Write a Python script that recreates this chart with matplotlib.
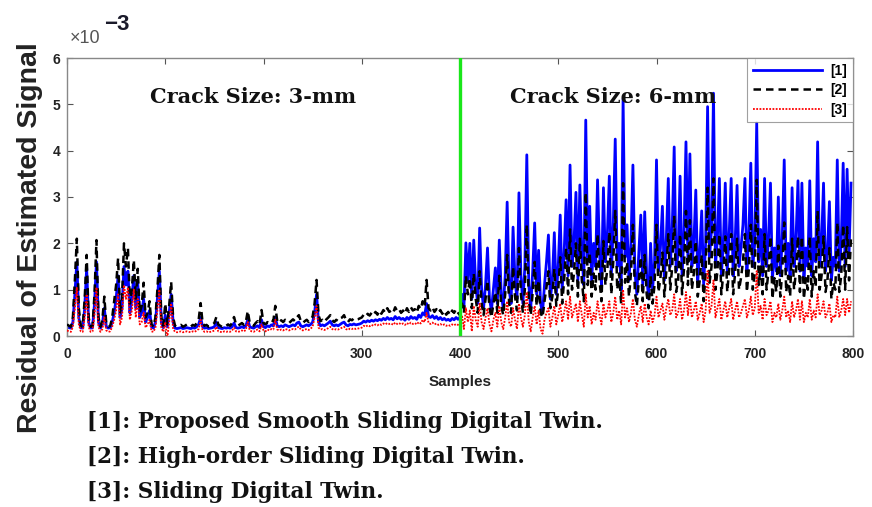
import numpy as np
import matplotlib
matplotlib.use("Agg")
import matplotlib.pyplot as plt

# ---------------- data (units of 1e-5, one value every 2 samples) ----------------
step = 2
blue_a = [
    20,18,17,30,90,160,40,18,17,60,      # 0
    147,30,17,18,70,160,30,17,25,60,     # 20
    20,17,18,30,50,80,130,40,60,150,     # 40
    110,140,50,80,130,60,115,40,50,80,   # 60
    30,40,55,20,17,30,80,140,30,18,      # 80
    45,20,50,90,30,17,16,17,18,16,       # 100
    17,18,17,16,18,17,20,25,40,20,       # 120
    17,18,16,17,18,20,30,18,17,16,       # 140
    18,17,18,17,20,28,18,17,18,20,       # 160
    18,22,35,20,18,17,20,22,18,35,       # 180
    20,18,22,20,24,22,40,22,20,22,       # 200
    20,24,22,20,22,24,22,28,30,22,       # 220
    20,22,24,22,25,30,50,90,30,22,       # 240
    24,22,25,28,32,24,22,24,22,25,       # 260
    28,30,24,22,25,24,26,24,25,26,       # 280
    28,32,30,33,31,34,32,35,33,36,       # 300
    34,38,35,40,36,38,35,42,37,40,       # 320
    36,38,34,40,36,42,38,40,36,45,       # 340
    40,50,45,70,42,40,44,38,42,36,       # 360
    40,35,38,34,36,33,38,35,40,36,       # 380
]
blue_b = [
    40,90,60,201,120,200,80,207,110,70,      # 400
    233,100,60,110,190,80,55,100,147,70,     # 420
    207,90,60,130,289,100,70,235,120,80,     # 440
    309,130,70,150,391,110,60,140,244,90,    # 460
    185,70,50,110,160,218,80,120,223,90,     # 480
    150,261,100,180,294,130,369,150,200,310, # 500
    120,326,180,110,466,160,280,120,200,150, # 520
    337,180,110,320,160,220,345,130,240,425, # 540
    150,200,100,512,170,240,120,200,369,140, # 560
    90,180,261,110,268,130,80,200,100,160,   # 580
    380,140,190,280,120,210,340,150,230,408, # 600
    140,180,345,130,220,419,160,393,150,200, # 620
    315,120,180,270,110,200,495,170,230,524, # 640
    150,210,340,130,200,330,140,220,340,130, # 660
    200,325,150,190,240,340,140,220,373,150, # 680
    200,460,160,230,130,340,150,210,330,120, # 700
    190,140,300,130,210,380,140,200,130,320, # 720
    150,210,335,140,330,120,190,150,335,130, # 740
    210,160,419,150,200,330,140,180,290,120, # 760
    170,150,380,140,200,373,150,360,180,330, # 780
]
black_a = [
    25,22,20,40,120,210,60,22,20,80,
    175,40,20,22,90,207,40,20,35,85,
    25,20,22,40,75,110,168,50,80,200,
    150,190,70,100,164,80,145,50,65,115,
    40,50,75,25,20,40,100,175,40,22,
    70,25,65,117,40,22,20,22,24,20,
    22,25,22,20,24,22,28,35,71,28,
    22,24,20,22,25,28,41,25,22,20,
    24,22,25,22,28,41,25,22,25,28,
    24,30,54,28,25,22,28,32,25,56,
    28,25,30,28,34,32,65,32,28,34,
    30,35,32,28,32,36,32,40,45,32,
    28,32,35,30,36,42,70,121,45,32,
    35,30,36,40,45,34,30,35,32,38,
    40,45,34,30,36,34,38,35,36,38,
    40,46,42,48,44,50,45,52,46,55,
    48,56,50,60,52,55,50,62,54,58,
    50,55,48,60,52,62,55,58,50,65,
    58,75,62,121,60,55,62,52,58,50,
    56,48,55,46,52,45,55,50,58,50,
]
black_b = [
    45,70,50,130,90,125,60,135,80,50,
    140,70,45,80,120,60,40,70,95,50,
    130,65,45,90,175,70,50,150,85,55,
    190,90,50,100,240,75,45,95,160,65,
    120,50,40,75,105,140,60,85,145,65,
    100,170,70,120,190,90,230,100,135,200,
    85,210,120,75,310,110,180,85,135,100,
    220,120,75,205,110,145,225,90,160,270,
    100,135,70,330,115,160,85,135,240,95,
    65,120,170,75,175,90,60,130,70,110,
    240,95,125,180,85,140,220,100,150,260,
    95,120,220,90,145,270,110,250,100,135,
    205,85,120,175,75,135,320,115,150,340,
    100,140,220,90,135,215,95,145,220,90,
    135,210,100,125,160,220,95,145,240,100,
    135,337,110,150,90,220,100,140,215,80,
    125,95,195,85,140,245,95,130,85,210,
    100,140,215,95,215,80,125,100,215,85,
    140,105,270,100,130,215,95,120,190,80,
    115,100,245,95,130,240,100,235,120,215,
]
red_a = [
    12,10,9,20,60,104,25,10,9,40,
    90,20,9,10,45,105,20,9,15,40,
    12,9,10,20,35,55,90,25,40,110,
    80,105,35,55,100,40,80,25,30,50,
    18,25,35,10,9,18,55,100,18,9,
    30,-5,30,70,15,9,8,9,10,8,
    9,10,9,8,10,9,12,15,35,12,
    9,10,8,9,10,12,20,10,9,8,
    10,9,10,9,12,18,10,9,10,12,
    10,13,30,12,10,9,12,14,10,25,
    12,10,14,12,15,14,35,14,12,14,
    12,15,14,12,14,15,14,18,20,14,
    12,14,15,13,16,20,40,65,18,14,
    15,13,15,17,20,15,13,15,14,16,
    18,20,15,13,16,15,17,15,16,17,
    18,22,20,23,21,24,22,25,23,26,
    24,27,25,28,26,27,24,29,26,28,
    25,27,24,28,25,29,26,28,25,30,
    27,35,30,50,28,26,29,25,27,24,
    26,23,25,22,24,22,25,23,26,24,
]
red_b = [
    20,45,15,60,30,55,10,65,35,20,
    70,30,15,40,60,25,10,35,50,20,
    65,30,15,40,75,30,20,60,35,15,
    70,40,20,45,95,30,10,40,65,25,
    55,15,5,35,50,60,20,40,65,25,
    45,70,30,50,75,35,85,40,55,70,
    30,75,45,20,90,40,65,25,50,35,
    75,45,25,70,40,55,75,30,50,85,
    35,55,25,100,40,60,30,50,80,35,
    20,45,65,30,70,40,25,55,30,45,
    85,40,55,70,35,60,80,45,55,90,
    40,50,80,35,55,95,45,85,40,55,
    75,35,50,70,30,55,140,50,65,120,
    40,60,80,35,55,75,40,60,80,35,
    55,75,40,50,65,80,40,55,85,45,
    60,140,50,65,35,80,45,55,75,30,
    50,40,70,35,55,85,40,55,30,75,
    40,55,80,35,75,30,50,40,80,35,
    55,40,90,45,55,75,40,50,70,30,
    45,40,85,40,55,80,45,80,50,75,
]
legend_labels = ["[1]", "[2]", "[3]"]
x_ticks = [0, 100, 200, 300, 400, 500, 600, 700, 800]
y_ticks = [0, 1, 2, 3, 4, 5, 6]
crack_change = 400
captions = ["[1]: Proposed Smooth Sliding Digital Twin.",
            "[2]: High-order Sliding Digital Twin.",
            "[3]: Sliding Digital Twin."]

# ---------------- figure ----------------
fig = plt.figure(figsize=(8.72, 5.07), dpi=100)
ax = fig.add_axes([67/872, 1-336/507, 786/872, 278/507])

def series(a, b):
    v = np.array(a + b, dtype=float) * 1e-2   # to units of 1e-3
    x = np.arange(len(v)) * step
    return x, v

xb, yb = series(blue_a, blue_b)
xk, yk = series(black_a, black_b)
xr, yr = series(red_a, red_b)

ax.plot(xb, yb, color=(0, 0, 1), lw=2.0, label=legend_labels[0], zorder=2)
ax.plot(xk, yk, color="black", lw=1.8, ls=(0, (3, 2)), label=legend_labels[1], zorder=3)
ax.plot(xr, yr, color=(1, 0, 0), lw=1.3, ls=(0, (1, 0.8)), label=legend_labels[2], zorder=4)
ax.axvline(crack_change, color=(0.1, 0.9, 0.1), lw=2.4, zorder=5)

ax.set_xlim(0, 800)
ax.set_ylim(0, 6)
ax.set_xticks(x_ticks)
ax.set_yticks(y_ticks)
tick_font = dict(family="Liberation Sans", weight="bold", size=10)
ax.set_xticklabels([str(t) for t in x_ticks], **tick_font)
ax.set_yticklabels([str(t) for t in y_ticks], **tick_font)
ax.tick_params(direction="in", top=True, right=True, length=4, width=0.8,
               colors="#555555", labelcolor="#222222", pad=5)
ax.tick_params(axis="x", pad=8)
for s in ax.spines.values():
    s.set_color("#888888")
    s.set_linewidth(1.0)

ax.set_xlabel("Samples", family="Liberation Sans", weight="bold", size=11,
              color="#222222", labelpad=10)

fig.text(30/872, 1-238/507, "Residual of Estimated Signal", rotation=90,
         ha="center", va="center", family="Liberation Sans", weight="bold",
         size=20.5, color="#222222")

fig.text(70/872, 1-43/507, "×10", ha="left", va="baseline",
         family="Liberation Sans", size=13, color="#555555")
fig.text(104/872, 1-30/507, "−3", ha="left", va="baseline",
         family="Liberation Sans", weight="bold", size=16, color="#1a1a2a")

serif = dict(family="DejaVu Serif", weight="bold", size=15, color="#111111")
fig.text(150/872, 1-103/507, "Crack Size: 3-mm", zorder=10, **serif)
fig.text(510/872, 1-103/507, "Crack Size: 6-mm", zorder=10, **serif)

leg = ax.legend(loc="upper right", prop=dict(family="Liberation Sans", weight="bold", size=10),
                frameon=True, fancybox=False, edgecolor="#888888", borderpad=0.4,
                handlelength=5.0, labelspacing=0.4, borderaxespad=0.0, handletextpad=0.6)
leg.get_frame().set_linewidth(0.8)

for i, c in enumerate(captions):
    fig.text(87/872, 1-(428 + 35*i)/507, c, ha="left", va="baseline",
             family="DejaVu Serif", weight="bold", size=15.5, color="#111111")

fig.savefig("out.png", dpi=100, facecolor="white")
